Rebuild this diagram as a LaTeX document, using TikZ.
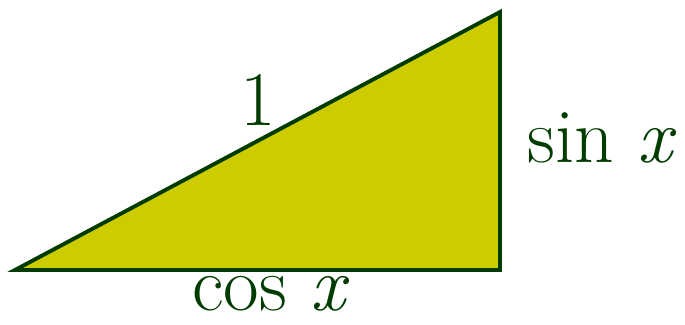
\documentclass[tikz,border=0pt]{standalone}
\usetikzlibrary{positioning,calc}
\definecolor{leaf}{HTML}{003C00}
\definecolor{olive}{HTML}{CCCC00}

\begin{document}
\begin{tikzpicture}[
every node/.style={text=leaf,font=\fontsize{44}{50}\selectfont,inner sep=0pt},
side/.style={draw=leaf,line width=2.2pt,line join=miter,fill=olive}]
\useasboundingbox (0,0) rectangle (13.7,6.5);
\coordinate (a) at (0.3,1.1);
\coordinate (b) at (10,1.1);
\coordinate (c) at (10,6.26);
\draw[side] (a)--(b)--(c)--cycle;
\node (hyp) at (5.16,4.5) {1};
\node (opp) at (12.04,3.74) {sin \textit{x}};
\node (adj) at (5.42,0.62) {cos \textit{x}};
\end{tikzpicture}
\end{document}
